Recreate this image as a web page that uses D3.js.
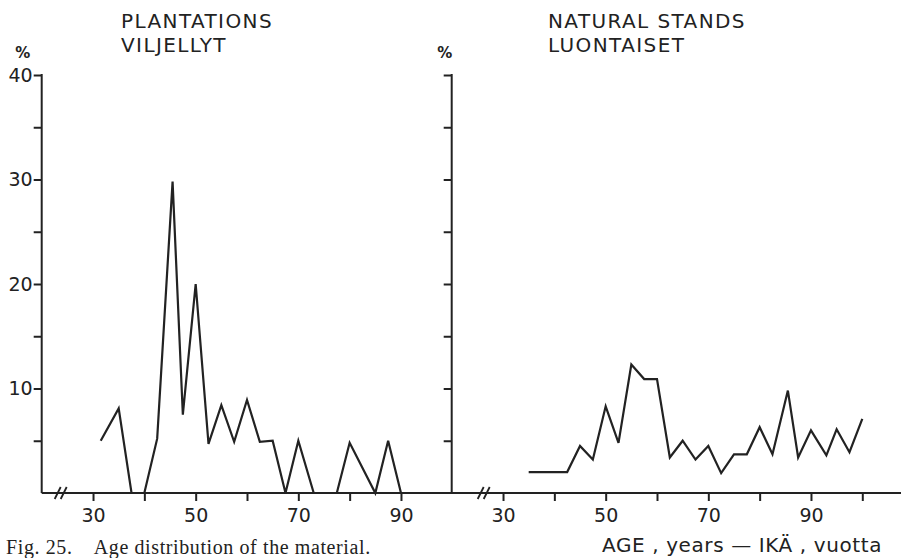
<!DOCTYPE html>
<html><head><meta charset="utf-8">
<script src="https://cdn.jsdelivr.net/npm/d3@7/dist/d3.min.js"></script>
<style>
body{margin:0;background:#fff;}
svg{display:block;}
text{font-family:"DejaVu Sans",sans-serif;fill:#222;}
</style></head>
<body>
<svg id="c" width="901" height="558"></svg>
<script>
// Data
const plantAges   = [31.5, 35, 37.5, 40, 42.5, 45.5, 47.5, 50, 52.5, 55, 57.5, 60, 62.5, 65, 67.5, 70, 73, 77.5, 80, 85, 87.5, 90];
const plantValues = [5, 8.1, 0, 0, 5.2, 29.8, 7.5, 20, 4.7, 8.4, 4.9, 8.9, 4.9, 5.0, 0, 5, 0, 0, 4.8, 0, 5, 0];
const natAges   = [35, 42.5, 45, 47.5, 50, 52.5, 55, 57.5, 60, 62.5, 65, 67.5, 70, 72.5, 75, 77.5, 80, 82.5, 85.5, 87.5, 90, 93, 95, 97.5, 100];
const natValues = [2, 2, 4.5, 3.2, 8.3, 4.8, 12.3, 10.9, 10.9, 3.4, 5.0, 3.2, 4.5, 1.9, 3.7, 3.7, 6.3, 3.7, 9.8, 3.4, 6.0, 3.6, 6.1, 3.9, 7.1];
const yTicks = [5, 10, 15, 20, 25, 30, 35, 40];
const yLabels = [10, 20, 30, 40];
const xTicksLeft = [30, 40, 50, 60, 70, 80, 90];
const xTicksRight = [30, 40, 50, 60, 70, 80, 90, 100];
const xLabels = [30, 50, 70, 90];
const titlesLeft = ["PLANTATIONS", "VILJELLYT"];
const titlesRight = ["NATURAL STANDS", "LUONTAISET"];
const xTitle = "AGE , years — IKÄ , vuotta";
const caption = "Fig. 25.    Age distribution of the material.";

const svg = d3.select("#c");
const ink = "#222";
const x = d3.scaleLinear().domain([20, 100]).range([41.7, 452.3]);
const y = d3.scaleLinear().domain([0, 40]).range([493, 75]);

// continuous baseline
svg.append("line").attr("x1", x(20)).attr("x2", 901).attr("y1", y(0)).attr("y2", y(0))
  .attr("stroke", ink).attr("stroke-width", 2);

function panel(dx, ages, vals, xt, labelY, titles, titleX) {
  const g = svg.append("g").attr("transform", `translate(${dx},0)`);
  // y axis
  const ya = d3.axisLeft(y).tickValues(yTicks).tickSize(8)
    .tickFormat(d => labelY && yLabels.includes(d) ? d : "");
  const ga = g.append("g").attr("transform", `translate(${x(20)},0)`).call(ya);
  ga.select(".domain").remove();
  ga.selectAll("line").attr("stroke", ink).attr("stroke-width", 2);
  ga.selectAll("text").attr("font-size", 19).attr("dx", 2).attr("fill", ink);
  g.append("line").attr("x1", x(20)).attr("x2", x(20)).attr("y1", y(40) - 1).attr("y2", y(0))
    .attr("stroke", ink).attr("stroke-width", 2);
  // x axis ticks
  const xa = d3.axisBottom(x).tickValues(xt).tickSize(8)
    .tickFormat(d => xLabels.includes(d) ? d : "");
  const gx = g.append("g").attr("transform", `translate(0,${y(0)})`).call(xa);
  gx.select(".domain").remove();
  gx.selectAll("line").attr("stroke", ink).attr("stroke-width", 2);
  gx.selectAll("text").attr("font-size", 19).attr("dy", "0.95em").attr("fill", ink);
  // break mark
  const bx = x(20) + (dx === 0 ? 16 : 29);
  [0, 6].forEach(o => g.append("line")
    .attr("x1", bx + o - 3).attr("y1", y(0) + 6).attr("x2", bx + o + 3).attr("y2", y(0) - 6)
    .attr("stroke", ink).attr("stroke-width", 1.8));
  // percent sign
  g.append("text").attr("x", x(20) - (dx === 0 ? 19 : 7)).attr("y", 58)
    .attr("font-size", 15).attr("text-anchor", "middle").attr("font-weight", "bold").text("%");
  // titles
  titles.forEach((t, i) => g.append("text").attr("x", titleX).attr("y", 28 + i * 23.5)
    .attr("font-size", 20).attr("letter-spacing", 1.4).text(t));
  // line
  const pts = ages.map((a, i) => [a, vals[i]]);
  g.append("path").datum(pts)
    .attr("d", d3.line().x(d => x(d[0])).y(d => y(d[1])))
    .attr("fill", "none").attr("stroke", ink).attr("stroke-width", 2.2)
    .attr("stroke-linejoin", "miter");
}

panel(0, plantAges, plantValues, xTicksLeft, true, titlesLeft, 121);
panel(410, natAges, natValues, xTicksRight, false, titlesRight, 138);

svg.append("text").attr("x", 882).attr("y", 552).attr("text-anchor", "end")
  .attr("font-size", 20).attr("letter-spacing", 0.6).text(xTitle);

svg.append("text").attr("x", 6).attr("y", 554)
  .style("font-family", "'Liberation Serif',serif").style("white-space", "pre")
  .attr("font-size", 20).attr("letter-spacing", 0.6).text(caption);
</script>
</body></html>
